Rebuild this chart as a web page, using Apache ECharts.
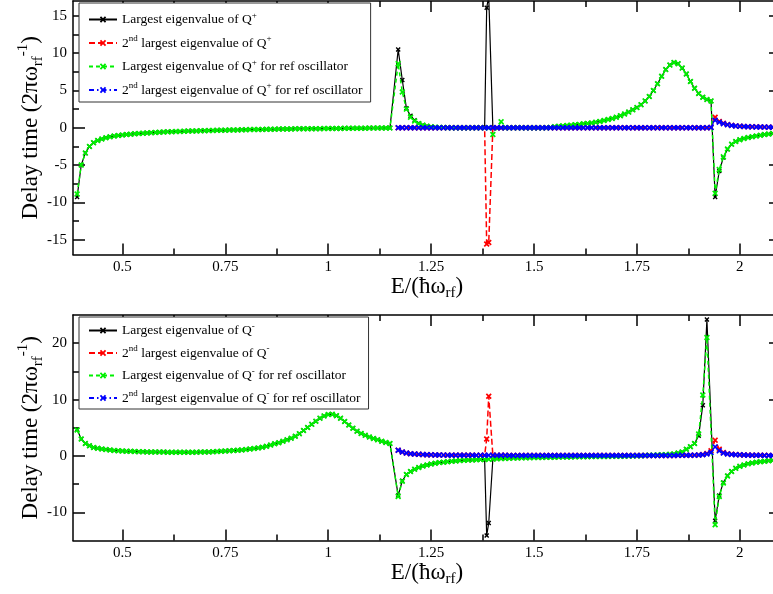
<!DOCTYPE html>
<html><head><meta charset="utf-8">
<script src="https://cdn.jsdelivr.net/npm/echarts@6/dist/echarts.min.js"></script>
<style>html,body{margin:0;padding:0;background:#fff;overflow:hidden}
#wrap{width:773px;height:594px;overflow:hidden;position:relative}
#c{width:790px;height:594px}</style>
</head><body><div id="wrap"><div id="c"></div></div>
<script>
// ---------- DATA ----------
const X = [
0.39,
0.40,0.41,0.42,0.43,0.44,0.45,0.46,0.47,0.48,0.49,
0.50,0.51,0.52,0.53,0.54,0.55,0.56,0.57,0.58,0.59,
0.60,0.61,0.62,0.63,0.64,0.65,0.66,0.67,0.68,0.69,
0.70,0.71,0.72,0.73,0.74,0.75,0.76,0.77,0.78,0.79,
0.80,0.81,0.82,0.83,0.84,0.85,0.86,0.87,0.88,0.89,
0.90,0.91,0.92,0.93,0.94,0.95,0.96,0.97,0.98,0.99,
1.00,1.01,1.02,1.03,1.04,1.05,1.06,1.07,1.08,1.09,
1.10,1.11,1.12,1.13,1.14,1.15,1.16,1.17,1.18,1.19,
1.20,1.21,1.22,1.23,1.24,1.25,1.26,1.27,1.28,1.29,
1.30,1.31,1.32,1.33,1.34,1.35,1.36,1.37,1.38,1.385,1.39,1.395,
1.40,1.41,1.42,1.43,1.44,1.45,1.46,1.47,1.48,1.49,
1.50,1.51,1.52,1.53,1.54,1.55,1.56,1.57,1.58,1.59,
1.60,1.61,1.62,1.63,1.64,1.65,1.66,1.67,1.68,1.69,
1.70,1.71,1.72,1.73,1.74,1.75,1.76,1.77,1.78,1.79,
1.80,1.81,1.82,1.83,1.84,1.85,1.86,1.87,1.88,1.89,
1.90,1.91,1.92,1.93,1.94,1.95,1.96,1.97,1.98,1.99,
2.00,2.01,2.02,2.03,2.04,2.05,2.06,2.07,2.08,2.09,
2.10
];
// second-eigenvalue curves start at this energy
const SECOND_START = 1.17;

// Top panel (Q+)
const topLargest = [
-9.3,
-5.0,-3.4,-2.5,-2.0,-1.7,-1.5,-1.35,-1.22,-1.12,-1.04,
-0.97,-0.91,-0.86,-0.81,-0.77,-0.73,-0.69,-0.66,-0.63,-0.6,
-0.57,-0.55,-0.53,-0.51,-0.49,-0.47,-0.45,-0.44,-0.42,-0.41,
-0.39,-0.38,-0.36,-0.35,-0.34,-0.32,-0.31,-0.3,-0.29,-0.28,
-0.26,-0.25,-0.24,-0.23,-0.22,-0.21,-0.2,-0.19,-0.18,-0.17,
-0.17,-0.16,-0.15,-0.15,-0.14,-0.13,-0.13,-0.12,-0.12,-0.11,
-0.1,-0.1,-0.09,-0.09,-0.08,-0.08,-0.07,-0.07,-0.06,-0.06,
-0.05,-0.05,-0.04,-0.04,-0.03,-0.03,null,10.5,6.4,2.6,
1.6,1.0,0.6,0.38,0.22,0.13,0.08,0.05,0.03,0.02,
0.01,0.01,0,0,0,0,0,0,0,16.1,17.6,null,
0,0,0,0,0,0,0,0,0,0,
0,0,0,0,0.05,0.15,0.2,0.25,0.3,0.35,
0.4,0.45,0.52,0.58,0.65,0.75,0.85,0.97,1.1,1.25,
1.42,1.62,1.85,2.1,2.4,2.7,3.1,3.6,4.2,5.0,
5.9,6.9,7.8,8.4,8.75,8.6,8.0,7.2,6.2,5.3,
4.6,4.1,3.8,3.6,-9.3,-5.8,-4.0,-2.9,-2.2,-1.85,
-1.6,-1.45,-1.32,-1.2,-1.1,-1.0,-0.92,-0.85,-0.78,-0.72,
-0.67
];
const topSecond = [
0,0,0,
0,0,0,0,0,0,0,0,0,0,
0,0,0,0,0,0,0,0,0,-15.6,-15.4,null,
0,0,0,0,0,0,0,0,0,0,
0,0,0,0,0,0,0,0,0,0,
0,0,0,0,0,0,0,0,0,0,
0,0,0,0,0,0,0,0,0,0,
0,0,0,0,0,0,0,0,0,0,
0,0,0,0.05,1.4,0.85,0.6,0.42,0.32,0.25,
0.2,0.17,0.15,0.13,0.12,0.1,0.09,0.08,0.07,0.07,
0.06
];
const topRefLargest = [
-8.9,
-5.0,-3.4,-2.5,-2.0,-1.7,-1.5,-1.35,-1.22,-1.12,-1.04,
-0.97,-0.91,-0.86,-0.81,-0.77,-0.73,-0.69,-0.66,-0.63,-0.6,
-0.57,-0.55,-0.53,-0.51,-0.49,-0.47,-0.45,-0.44,-0.42,-0.41,
-0.39,-0.38,-0.36,-0.35,-0.34,-0.32,-0.31,-0.3,-0.29,-0.28,
-0.26,-0.25,-0.24,-0.23,-0.22,-0.21,-0.2,-0.19,-0.18,-0.17,
-0.17,-0.16,-0.15,-0.15,-0.14,-0.13,-0.13,-0.12,-0.12,-0.11,
-0.1,-0.1,-0.09,-0.09,-0.08,-0.08,-0.07,-0.07,-0.06,-0.06,
-0.05,-0.05,-0.04,-0.04,-0.03,-0.03,null,8.6,4.8,2.5,
1.4,0.9,0.55,0.35,0.2,0.12,0.07,0.04,0.02,0.01,
0.01,0.01,0,0,0,0,0,0,0,null,0,null,
-0.9,null,0.8,0,0,0,0,0,0,0,
0,0,0,0,0.05,0.15,0.2,0.25,0.3,0.35,
0.4,0.45,0.52,0.58,0.65,0.75,0.85,0.97,1.1,1.25,
1.42,1.62,1.85,2.1,2.4,2.7,3.1,3.6,4.2,5.0,
5.9,6.9,7.8,8.4,8.75,8.6,8.0,7.2,6.2,5.3,
4.6,4.1,3.8,3.6,-8.8,-5.6,-3.9,-2.85,-2.2,-1.85,
-1.6,-1.45,-1.32,-1.2,-1.1,-1.0,-0.92,-0.85,-0.78,-0.72,
-0.67
];
const topRefSecond = [
0,0,0,
0,0,0,0,0,0,0,0,0,0,
0,0,0,0,0,0,0,0,0,null,0,null,
0,0,0,0,0,0,0,0,0,0,
0,0,0,0,0,0,0,0,0,0,
0,0,0,0,0,0,0,0,0,0,
0,0,0,0,0,0,0,0,0,0,
0,0,0,0,0,0,0,0,0,0,
0,0,0,0.03,1.0,0.75,0.55,0.4,0.3,0.24,
0.19,0.16,0.14,0.12,0.11,0.1,0.09,0.08,0.07,0.06,
0.06
];

// Bottom panel (Q-)
const botLargest = [
4.7,
3.0,2.2,1.8,1.5,1.35,1.22,1.12,1.04,0.98,0.92,
0.88,0.84,0.81,0.78,0.76,0.74,0.72,0.7,0.69,0.68,
0.68,0.66,0.65,0.65,0.65,0.65,0.66,0.66,0.67,0.68,
0.7,0.72,0.75,0.78,0.82,0.86,0.9,0.95,1.0,1.07,
1.14,1.22,1.32,1.43,1.55,1.7,1.92,2.15,2.35,2.6,
2.85,3.15,3.5,3.95,4.5,5.05,5.6,6.15,6.7,7.1,
7.35,7.4,7.15,6.7,6.1,5.5,4.9,4.4,4.0,3.65,
3.35,3.1,2.85,2.6,2.4,2.2,null,-7.0,-4.4,-3.3,
-2.75,-2.35,-2.05,-1.8,-1.6,-1.45,-1.3,-1.18,-1.1,-1.02,
-0.95,-0.88,-0.83,-0.78,-0.74,-0.7,-0.67,-0.64,-0.61,-14.1,-11.9,null,
-0.55,-0.5,-0.47,-0.44,-0.41,-0.38,-0.36,-0.34,-0.32,-0.3,
-0.28,-0.27,-0.26,-0.24,-0.23,-0.22,-0.2,-0.19,-0.18,-0.17,
-0.16,-0.15,-0.14,-0.13,-0.12,-0.11,-0.1,-0.09,-0.08,-0.07,
-0.06,-0.05,-0.04,-0.02,0,0.02,0.04,0.07,0.1,0.13,
0.16,0.19,0.23,0.28,0.35,0.5,0.72,1.18,1.65,2.2,
3.6,9.0,24.2,null,-11.5,-7.0,-4.7,-3.5,-2.75,-2.2,
-1.85,-1.6,-1.4,-1.25,-1.13,-1.03,-0.94,-0.86,-0.78,-0.72,
-0.67
];
const botSecond = [
1.0,0.7,0.5,
0.4,0.33,0.28,0.24,0.21,0.19,0.17,0.16,0.15,0.14,
0.13,0.13,0.12,0.12,0.11,0.11,0.1,0.1,0.1,3.0,10.6,null,
0.1,0.1,0.1,0.1,0.09,0.09,0.09,0.09,0.09,0.09,
0.08,0.08,0.08,0.08,0.08,0.08,0.08,0.08,0.08,0.08,
0.08,0.08,0.08,0.08,0.08,0.08,0.08,0.08,0.08,0.08,
0.08,0.08,0.08,0.08,0.08,0.08,0.08,0.08,0.08,0.08,
0.08,0.08,0.08,0.09,0.09,0.1,0.1,0.11,0.12,0.14,
0.17,0.25,0.45,0.9,2.8,1.2,0.6,0.4,0.3,0.24,
0.2,0.17,0.15,0.13,0.12,0.11,0.1,0.09,0.08,0.08,
0.07
];
const botRefLargest = [
4.6,
3.0,2.2,1.8,1.5,1.35,1.22,1.12,1.04,0.98,0.92,
0.88,0.84,0.81,0.78,0.76,0.74,0.72,0.7,0.69,0.68,
0.68,0.66,0.65,0.65,0.65,0.65,0.66,0.66,0.67,0.68,
0.7,0.72,0.75,0.78,0.82,0.86,0.9,0.95,1.0,1.07,
1.14,1.22,1.32,1.43,1.55,1.7,1.92,2.15,2.35,2.6,
2.85,3.15,3.5,3.95,4.5,5.05,5.6,6.15,6.7,7.1,
7.35,7.4,7.15,6.7,6.1,5.5,4.9,4.4,4.0,3.65,
3.35,3.1,2.85,2.6,2.4,2.2,null,-7.2,-4.5,-3.3,
-2.75,-2.35,-2.05,-1.8,-1.6,-1.45,-1.3,-1.18,-1.1,-1.02,
-0.95,-0.88,-0.83,-0.78,-0.74,-0.7,-0.67,-0.64,-0.61,null,-0.58,null,
-0.55,-0.5,-0.47,-0.44,-0.41,-0.38,-0.36,-0.34,-0.32,-0.3,
-0.28,-0.27,-0.26,-0.24,-0.23,-0.22,-0.2,-0.19,-0.18,-0.17,
-0.16,-0.15,-0.14,-0.13,-0.12,-0.11,-0.1,-0.09,-0.08,-0.07,
-0.06,-0.05,-0.04,-0.02,0,0.02,0.04,0.07,0.1,0.13,
0.16,0.19,0.23,0.28,0.35,0.5,0.72,1.18,1.65,2.2,
3.9,10.8,21.0,null,-12.2,-7.2,-4.8,-3.55,-2.75,-2.2,
-1.85,-1.6,-1.4,-1.25,-1.13,-1.03,-0.94,-0.86,-0.78,-0.72,
-0.67
];
const botRefSecond = [
1.0,0.7,0.5,
0.4,0.33,0.28,0.24,0.21,0.19,0.17,0.16,0.15,0.14,
0.13,0.13,0.12,0.12,0.11,0.11,0.1,0.1,0.1,null,0.1,null,
0.1,0.1,0.1,0.1,0.09,0.09,0.09,0.09,0.09,0.09,
0.08,0.08,0.08,0.08,0.08,0.08,0.08,0.08,0.08,0.08,
0.08,0.08,0.08,0.08,0.08,0.08,0.08,0.08,0.08,0.08,
0.08,0.08,0.08,0.08,0.08,0.08,0.08,0.08,0.08,0.08,
0.08,0.08,0.08,0.09,0.09,0.1,0.1,0.11,0.12,0.14,
0.17,0.22,0.35,0.6,1.6,0.9,0.5,0.35,0.27,0.22,
0.19,0.16,0.14,0.12,0.11,0.1,0.09,0.08,0.08,0.07,
0.07
];

// Axes / ticks
const X_RANGE = [0.38, 2.1];
const X_MAJOR = [0.5, 0.75, 1, 1.25, 1.5, 1.75, 2];
const X_MAJOR_LABELS = ['0.5', '0.75', '1', '1.25', '1.5', '1.75', '2'];
const X_MINOR = [0.625, 0.875, 1.125, 1.375, 1.625, 1.875];
const TOP_Y_RANGE = [-17, 17];
const TOP_Y_MAJOR = [-15, -10, -5, 0, 5, 10, 15];
const TOP_Y_MINOR = [-12.5, -7.5, -2.5, 2.5, 7.5, 12.5];
const BOT_Y_RANGE = [-15, 25];
const BOT_Y_MAJOR = [-10, 0, 10, 20];
const BOT_Y_MINOR = [-5, 5, 15];

const TOP_NAMES = ['Largest eigenvalue of Q+', '2nd largest eigenvalue of Q+',
  'Largest eigenvalue of Q+ for ref oscillator', '2nd largest eigenvalue of Q+ for ref oscillator'];
const BOT_NAMES = ['Largest eigenvalue of Q-', '2nd largest eigenvalue of Q-',
  'Largest eigenvalue of Q- for ref oscillator', '2nd largest eigenvalue of Q- for ref oscillator'];

// ---------- CHART ----------
const FONT = 'Liberation Serif';
const BLACK = '#000';
const XSYM = 'path://M0,2L2,0L5,3L8,0L10,2L7,5L10,8L8,10L5,7L2,10L0,8L3,5Z';
const GRIDS = [
  {left: 73, top: 1, width: 708, height: 253.5, outerBoundsMode: 'none'},
  {left: 73, top: 315, width: 708, height: 225.5, outerBoundsMode: 'none'}
];

function legendFmt(name) {
  let s = name, out = '';
  if (s.startsWith('2nd')) { out += '{t|2}{s|nd}'; s = s.slice(3); }
  const m = s.match(/^(.*Q)([+-])(.*)$/);
  out += '{t|' + m[1] + '}{s|' + m[2] + '}';
  if (m[3]) out += '{t|' + m[3] + '}';
  return out;
}

const axLine = {show: true, onZero: false, lineStyle: {color: BLACK, width: 1.5}};
const noLine = {show: false, onZero: false};
const labelStyle = {fontFamily: FONT, fontSize: 15, color: BLACK};
const TITLE = 23;

function xAxes(g) {
  const base = {gridIndex: g, type: 'value', min: X_RANGE[0], max: X_RANGE[1],
    splitLine: {show: false}, axisLabel: {show: false}, axisLine: noLine};
  const tick = (vals, len) => ({show: true, inside: true, length: len, customValues: vals,
    lineStyle: {color: BLACK, width: 1.5}});
  return [
    Object.assign({}, base, {position: 'bottom', axisLine: axLine, axisTick: tick(X_MAJOR, 11),
      axisLabel: Object.assign({show: true, customValues: X_MAJOR, margin: 5,
        formatter: v => X_MAJOR_LABELS[X_MAJOR.findIndex(m => Math.abs(m - v) < 1e-6)]}, labelStyle),
      name: '{n|E/(ħω}{sub|rf}{n|)}', nameLocation: 'middle', nameGap: 16,
      nameTextStyle: {fontFamily: FONT, color: BLACK, rich: {
        n: {fontFamily: FONT, fontSize: TITLE, lineHeight: 27, color: BLACK},
        sub: {fontFamily: FONT, fontSize: 15, lineHeight: 15, verticalAlign: 'bottom', color: BLACK}}}}),
    Object.assign({}, base, {position: 'bottom', axisTick: tick(X_MINOR, 6)}),
    Object.assign({}, base, {position: 'top', axisLine: axLine, axisTick: tick(X_MAJOR, 11)}),
    Object.assign({}, base, {position: 'top', axisTick: tick(X_MINOR, 6)})
  ];
}
function yAxes(g, range, major, minor) {
  const base = {gridIndex: g, type: 'value', min: range[0], max: range[1],
    splitLine: {show: false}, axisLabel: {show: false}, axisLine: noLine};
  const tick = (vals, len) => ({show: true, inside: true, length: len, customValues: vals,
    lineStyle: {color: BLACK, width: 1.5}});
  return [
    Object.assign({}, base, {position: 'left', axisLine: axLine, axisTick: tick(major, 12),
      axisLabel: Object.assign({show: true, customValues: major, margin: 6,
        formatter: v => String(Math.round(v))}, labelStyle),
      name: '{n|Delay time (2πω}{sub|rf}{sup|-1}{n|)}', nameLocation: 'middle', nameGap: 27,
      nameRotate: 90, nameMoveOverlap: false,
      nameTextStyle: {fontFamily: FONT, color: BLACK, rich: {
        n: {fontFamily: FONT, fontSize: TITLE, lineHeight: 30, color: BLACK},
        sub: {fontFamily: FONT, fontSize: 15, lineHeight: 15, verticalAlign: 'bottom', color: BLACK},
        sup: {fontFamily: FONT, fontSize: 15, lineHeight: 15, verticalAlign: 'top', color: BLACK}}}}),
    Object.assign({}, base, {position: 'left', axisTick: tick(minor, 6)}),
    Object.assign({}, base, {position: 'right', axisLine: axLine, axisTick: tick(major, 12)}),
    Object.assign({}, base, {position: 'right', axisTick: tick(minor, 6)})
  ];
}

function series(name, g, xs, ys, color, dash, width, size, z) {
  return {
    name, type: 'line', xAxisIndex: g * 4, yAxisIndex: g * 4, z,
    data: ys.map((y, i) => [xs[i], y]),
    connectNulls: true, symbol: XSYM, symbolSize: size, showSymbol: true,
    lineStyle: {color, width, type: dash}, itemStyle: {color},
    emphasis: {disabled: true}, animation: false
  };
}
const startIdx = X.indexOf(SECOND_START);
const X2 = X.slice(startIdx);
const RED = '#ff0000', GREEN = '#00f000', BLUE = '#0000ff';

const legendBase = {
  orient: 'vertical', left: 79, backgroundColor: '#fff', borderColor: '#333', borderWidth: 1,
  itemWidth: 28, itemHeight: 8, selectedMode: false, formatter: legendFmt,
  textStyle: {fontFamily: FONT, fontSize: 13.5, color: BLACK, rich: {
    t: {fontFamily: FONT, fontSize: 13.5, lineHeight: 17, color: BLACK},
    s: {fontFamily: FONT, fontSize: 9, lineHeight: 9, verticalAlign: 'top', color: BLACK}}}
};

const chart = echarts.init(document.getElementById('c'), null, {renderer: 'canvas'});
chart.setOption({
  animation: false,
  backgroundColor: '#fff',
  grid: GRIDS,
  xAxis: xAxes(0).concat(xAxes(1)),
  yAxis: yAxes(0, TOP_Y_RANGE, TOP_Y_MAJOR, TOP_Y_MINOR).concat(yAxes(1, BOT_Y_RANGE, BOT_Y_MAJOR, BOT_Y_MINOR)),
  legend: [
    Object.assign({}, legendBase, {top: 3, padding: [8, 8, 5, 9], itemGap: 8, data: TOP_NAMES}),
    Object.assign({}, legendBase, {top: 317, padding: [5, 8, 4, 9], itemGap: 7, data: BOT_NAMES})
  ],
  series: [
    series(TOP_NAMES[0], 0, X, topLargest, BLACK, 'solid', 1.2, 5, 2),
    series(TOP_NAMES[1], 0, X2, topSecond, RED, [6, 3], 1.5, 6, 3),
    series(TOP_NAMES[2], 0, X, topRefLargest, GREEN, [4, 3], 1.5, 6, 4),
    series(TOP_NAMES[3], 0, X2, topRefSecond, BLUE, [5, 3, 1.5, 3], 1.5, 6, 5),
    series(BOT_NAMES[0], 1, X, botLargest, BLACK, 'solid', 1.2, 5, 2),
    series(BOT_NAMES[1], 1, X2, botSecond, RED, [6, 3], 1.5, 6, 3),
    series(BOT_NAMES[2], 1, X, botRefLargest, GREEN, [4, 3], 1.5, 6, 4),
    series(BOT_NAMES[3], 1, X2, botRefSecond, BLUE, [5, 3, 1.5, 3], 1.5, 6, 5)
  ]
});
</script>
</body></html>
